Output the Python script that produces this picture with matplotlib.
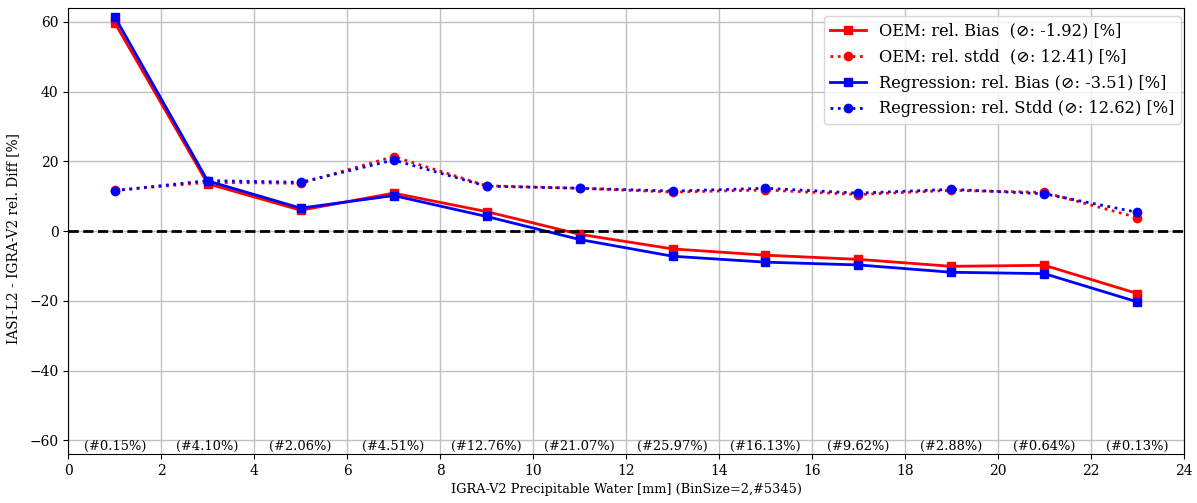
import numpy as np
from matplotlib import pyplot as plt

plt.rcParams['font.family'] = ['DejaVu Serif', 'DejaVu Sans']

# bin centers (precipitable water, mm)
x = [1, 3, 5, 7, 9, 11, 13, 15, 17, 19, 21, 23]

oem_bias = [59.8, 13.6, 6.0, 10.9, 5.6, -0.9, -5.1, -6.9, -8.1, -10.1, -9.8, -17.9]
oem_stdd = [11.7, 14.0, 13.7, 21.4, 13.0, 12.3, 11.2, 11.8, 10.5, 11.7, 11.1, 3.9]
reg_bias = [61.5, 14.4, 6.6, 10.2, 4.2, -2.4, -7.2, -8.9, -9.7, -11.8, -12.2, -20.3]
reg_stdd = [11.6, 14.5, 14.0, 20.4, 12.9, 12.3, 11.5, 12.3, 10.9, 12.0, 10.7, 5.4]

share = ['0.15', '4.10', '2.06', '4.51', '12.76', '21.07',
         '25.97', '16.13', '9.62', '2.88', '0.64', '0.13']

fig, ax = plt.subplots(figsize=(11.97, 5.03), dpi=100)
fig.subplots_adjust(left=0.057, right=0.989, top=0.984, bottom=0.097)

ax.plot(x, oem_bias, 'rs-', lw=2, ms=6, label='OEM: rel. Bias  (\u2298: -1.92) [%]')
ax.plot(x, oem_stdd, 'ro:', lw=2, ms=6, label='OEM: rel. stdd  (\u2298: 12.41) [%]')
ax.plot(x, reg_bias, 'bs-', lw=2, ms=6, label='Regression: rel. Bias (\u2298: -3.51) [%]')
ax.plot(x, reg_stdd, 'bo:', lw=2, ms=6, label='Regression: rel. Stdd (\u2298: 12.62) [%]')
ax.axhline(0, color='k', ls='--', lw=2)

for xi, s in zip(x, share):
    ax.text(xi, -61.9, '(#%s%%)' % s, ha='center', va='center', fontsize=9.4)

ax.set_xlim(0, 24)
ax.set_ylim(-64, 64)
ax.set_xticks(range(0, 25, 2))
ax.grid(True, color='#c0c0c0', lw=1)
ax.set_xlabel('IGRA-V2 Precipitable Water [mm] (BinSize=2,#5345)', fontsize=9.3)
ax.set_ylabel('IASI-L2 - IGRA-V2 rel. Diff [%]', fontsize=9.9)
ax.yaxis.set_label_coords(-0.043, 0.484)
ax.tick_params(labelsize=10)
ax.legend(loc='upper right', bbox_to_anchor=(1.0045, 1.0), fontsize=11.7,
          handlelength=2.2, labelspacing=0.55)

fig.savefig('out.png')
